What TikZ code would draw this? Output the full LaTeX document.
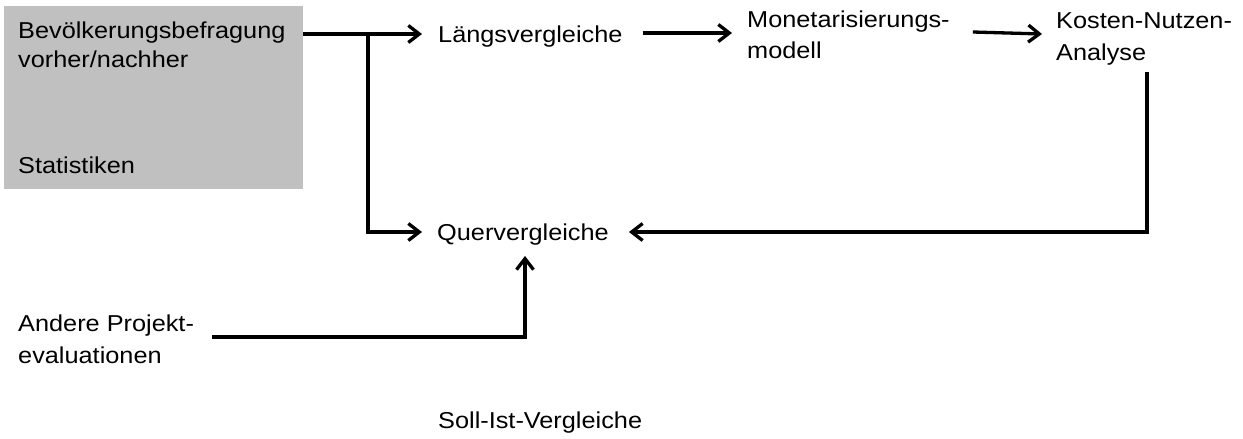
\documentclass[tikz,border=0pt]{standalone}
\usepackage{fontspec}
\setmainfont{Liberation Sans}[FakeStretch=1.1]
\usetikzlibrary{arrows.meta,calc}
\definecolor{boxgray}{RGB}{192,192,192}
\begin{document}
\begin{tikzpicture}[x=1pt,y=-1pt,
  txt/.style={anchor=base west,inner sep=0pt,align=left,font=\fontsize{23}{30}\selectfont},
  conn/.style={line width=3.3pt,line join=miter},
  arr/.style={conn,-{Straight Barb[length=11pt,width=17pt]}}]
\useasboundingbox (0,0) rectangle (1243,439);
\node[fill=boxgray,minimum width=299pt,minimum height=183pt,anchor=north west,inner sep=0pt] (src) at (4,6) {};
\node[txt,font=\fontsize{23}{29}\selectfont] (bev) at (18,67) {Bevölkerungsbefragung\\vorher/nachher};
\node[txt] (stat) at (18,173) {Statistiken};
\node[txt] (laengs) at (438,42) {Längsvergleiche};
\node[txt,font=\fontsize{23}{31}\selectfont] (mon) at (747,58) {Monetarisierungs-\\modell};
\node[txt,font=\fontsize{23}{32}\selectfont] (kna) at (1056,60) {Kosten-Nutzen-\\Analyse};
\node[txt] (quer) at (437,240) {Quervergleiche};
\node[txt,font=\fontsize{23}{32}\selectfont] (andere) at (18,363) {Andere Projekt-\\evaluationen};
\node[txt] (soll) at (438,428) {Soll-Ist-Vergleiche};
\coordinate (branch) at (368,34);
\coordinate (kEnd) at (1147,72);
\coordinate (aEnd) at (212,337);
\draw[arr] (src.east |- branch) -- ($(laengs.west |- branch)+(-16,0)$);
\draw[arr] (branch) |- ($(quer.west |- 0,232)+(-15,0)$);
\draw[arr] ($(laengs.east |- 0,33)+(20,0)$) -- ($(mon.west |- 0,33)+(-15,0)$);
\draw[arr] ($(mon.east |- 0,32)+(23,0)$) -- ($(kna.west |- 0,34)+(-14,0)$);
\draw[arr] (kEnd) |- ($(quer.east |- 0,232)+(20,0)$);
\draw[arr] (aEnd) -| ($(quer.south -| 525,0)+(0,11)$);
\end{tikzpicture}
\end{document}
